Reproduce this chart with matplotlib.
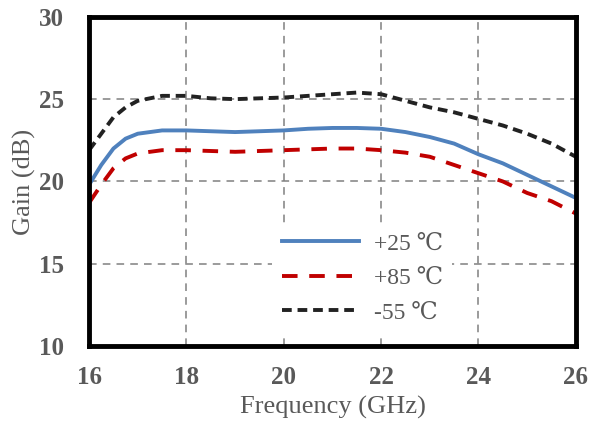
import matplotlib.pyplot as plt

# 측정 주파수 (GHz)
freq = [16.0, 16.25, 16.5, 16.75, 17.0, 17.5, 18.0, 18.5, 19.0, 19.5, 20.0,
        20.5, 21.0, 21.5, 22.0, 22.5, 23.0, 23.5, 24.0, 24.5, 25.0, 25.5, 26.0]

# 온도별 이득 (dB)
gain_25 = [19.8, 21.0, 22.0, 22.6, 22.9, 23.1, 23.1, 23.05, 23.0, 23.05, 23.1,
           23.2, 23.25, 23.25, 23.2, 23.0, 22.7, 22.3, 21.65, 21.1, 20.4, 19.7, 19.0]
gain_85 = [18.7, 19.8, 20.8, 21.4, 21.7, 21.9, 21.9, 21.85, 21.8, 21.85, 21.9,
           21.95, 22.0, 22.0, 21.9, 21.75, 21.5, 21.0, 20.5, 20.0, 19.3, 18.8, 18.05]
gain_m55 = [21.9, 22.9, 23.9, 24.5, 24.9, 25.2, 25.2, 25.05, 25.0, 25.05, 25.1,
            25.2, 25.3, 25.4, 25.3, 24.9, 24.5, 24.2, 23.8, 23.4, 22.9, 22.3, 21.5]

labels = ['+25 ℃', '+85 ℃', '-55 ℃']
xticks = [16, 18, 20, 22, 24, 26]
yticks = [10, 15, 20, 25, 30]

plt.rcParams['font.family'] = ['Liberation Serif', 'DejaVu Serif']
gray = '#595959'

fig = plt.figure(figsize=(5.9, 4.21), dpi=100)
ax = fig.add_axes([0.151, 0.178, 0.825, 0.782])

ax.plot(freq, gain_25, color='#4f81bd', lw=2.8, label=labels[0])
ax.plot(freq, gain_85, color='#c00000', lw=2.8, dashes=(4, 3), label=labels[1])
ax.plot(freq, gain_m55, color='#222222', lw=2.8, dashes=(2.5, 1.5), label=labels[2])

ax.set_xlim(16, 26)
ax.set_ylim(10, 30)
ax.set_xticks(xticks)
ax.set_yticks(yticks)
ax.tick_params(axis='x', length=0, pad=14, labelsize=18, labelcolor=gray)
ax.tick_params(axis='y', length=0, pad=18, labelsize=18, labelcolor=gray)
for t in ax.get_xticklabels() + ax.get_yticklabels():
    t.set_fontweight('bold')

ax.grid(True, color='#808080', ls=(0, (5, 4)), lw=1.1)
for s in ax.spines.values():
    s.set_linewidth(3.5)
    s.set_color('black')

ax.set_xlabel('Frequency (GHz)', fontsize=19, color=gray, labelpad=5)
ax.set_ylabel('Gain (dB)', fontsize=19, color=gray, labelpad=2)

leg = ax.legend(loc='upper left', bbox_to_anchor=(0.376, 0.372), fontsize=17,
                frameon=True, framealpha=1, edgecolor='none', fancybox=False,
                handlelength=3.3, handletextpad=0.6, labelspacing=0.55,
                borderaxespad=0)
for t in leg.get_texts():
    t.set_color(gray)

fig.savefig('out.png', dpi=100)
